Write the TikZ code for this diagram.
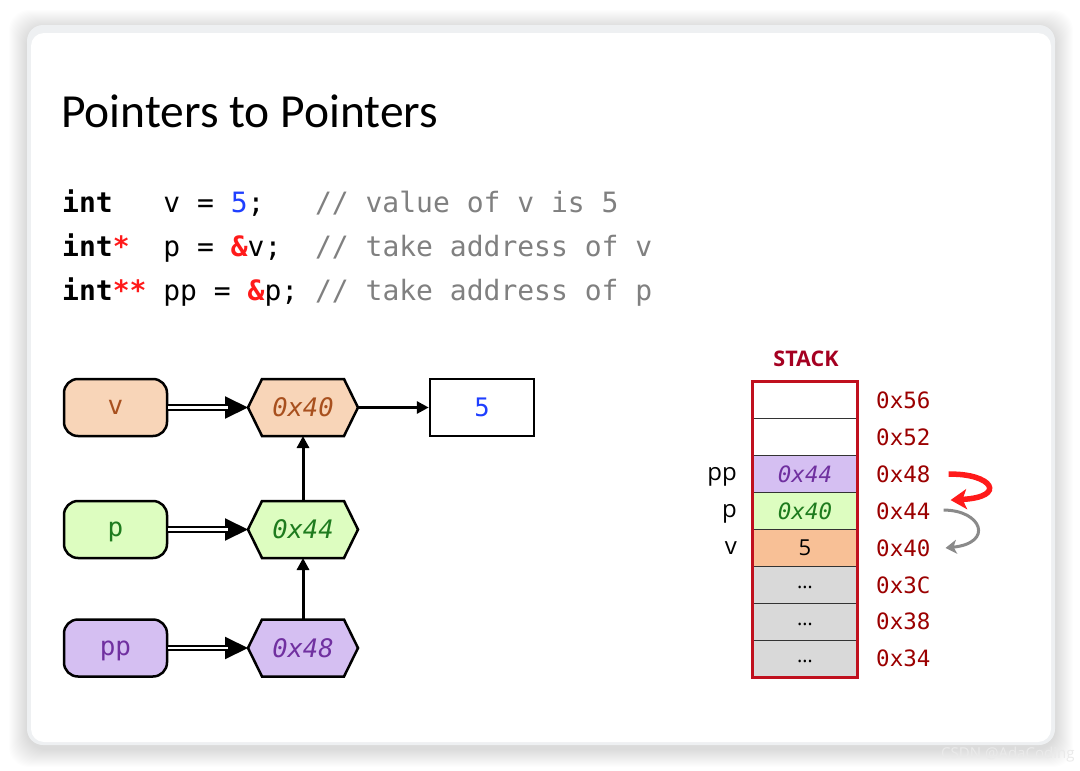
\documentclass[tikz,border=0pt]{standalone}
\usepackage{fontspec}
\setmainfont{Open Sans}
\setmonofont{DejaVu Sans Mono}
\newfontfamily\titlefont{Carlito}
\usetikzlibrary{arrows.meta,calc}
\definecolor{cardedge}{HTML}{EEF0F2}
\definecolor{peach}{HTML}{F8D5B8}
\definecolor{peachdark}{HTML}{F8C096}
\definecolor{lgreen}{HTML}{DDFDC0}
\definecolor{lpurple}{HTML}{D5BFF2}
\definecolor{cellgray}{HTML}{D9D9D9}
\definecolor{tbrown}{HTML}{A8501E}
\definecolor{tgreen}{HTML}{1E7B1E}
\definecolor{tpurple}{HTML}{7030A0}
\definecolor{tblue}{HTML}{1F3FFF}
\definecolor{cgray}{HTML}{808080}
\definecolor{cred}{HTML}{FF1A1A}
\definecolor{stackred}{HTML}{C0101E}
\definecolor{addrred}{HTML}{9B0000}
\definecolor{stacklbl}{HTML}{A50021}
\definecolor{arrgray}{HTML}{8A8A8A}
\definecolor{wmark}{HTML}{EAEAEA}
\begin{document}
\begin{tikzpicture}[x=1pt,y=-1pt,
  codeline/.style={anchor=base west, inner sep=0pt, font=\fontsize{28}{34}\selectfont\ttfamily},
  varbox/.style={draw, line width=2.5pt, rounded corners=14pt, minimum width=103pt, minimum height=57pt, inner sep=0pt, fill=#1, font=\fontsize{26}{30}\selectfont\ttfamily, text height=14pt, text depth=0pt},
  hexbox/.style={minimum width=116pt, minimum height=64pt, inner sep=0pt, outer xsep=-3pt, outer ysep=-3.5pt,
    font=\fontsize{25.5}{30}\selectfont\ttfamily\itshape,
    path picture={\filldraw[line width=2.5pt, fill=#1, line join=miter]
      ($(path picture bounding box.center)+(-55,0)$) -- ++(14,-28.5) -- ++(82,0) -- ++(14,28.5) -- ++(-14,28.5) -- ++(-82,0) -- cycle;}},
  valbox/.style={draw, line width=2.5pt, minimum width=104pt, minimum height=57pt, inner sep=0pt, fill=white, font=\fontsize{25.5}{30}\selectfont\ttfamily},
  dblline/.style={double, double distance=2.5pt, line width=2pt, shorten >=20pt},
  dblhead/.style={line width=2pt, -{Triangle[length=23pt,width=22pt]}},
  ptr/.style={line width=3pt, -{Triangle[length=12pt,width=12pt]}},
  cell/.style={draw=black!80, line width=0.9pt, minimum width=104pt, minimum height=36.875pt, inner sep=0pt, fill=#1},
  celltxt/.style={font=\fontsize{22.5}{26}\selectfont\ttfamily\itshape},
  dots/.style={font=\fontsize{20}{24}\selectfont, yshift=-3pt},
  addr/.style={anchor=west, inner sep=0pt, text=addrred, font=\fontsize{22.5}{26}\selectfont\ttfamily},
  slabel/.style={anchor=east, inner sep=0pt, font=\fontsize{24}{28}\selectfont, text height=13pt, text depth=0pt},
]
\useasboundingbox (0,0) rectangle (1080,771);
\fill[white] (0,0) rectangle (1080,771);
% soft shadow
\foreach \i in {1,...,18}{
  \fill[black, opacity=0.009, rounded corners=20pt] (27-\i,25-\i+3) rectangle (1055+\i,745+\i+4);
}
% card
\fill[cardedge, rounded corners=16pt] (27,25) rectangle (1055,745);
\fill[white, rounded corners=13pt] (31,33) rectangle (1051,742);
\node[wmark, anchor=base west, inner sep=0pt, font=\fontsize{15}{18}\selectfont] (wm) at (941,758) {CSDN @AdaCoding};

% title
\node[anchor=base west, inner sep=0pt, font=\fontsize{47.5}{54}\selectfont\titlefont] (title) at (61,127) {Pointers to Pointers};

% code
\node[codeline] (l1) at (62,212) {\textbf{int}\ \ \ v = \textcolor{tblue}{5};\ \ \ \textcolor{cgray}{// value of v is 5}};
\node[codeline] (l2) at (62,256) {\textbf{int\textcolor{cred}{*}}\ \ p = \textcolor{cred}{\textbf{\&}}v;\ \ \textcolor{cgray}{// take address of v}};
\node[codeline] (l3) at (62,300) {\textbf{int\textcolor{cred}{**}}\ pp = \textcolor{cred}{\textbf{\&}}p;\ \textcolor{cgray}{// take address of p}};

% left diagram
\node[varbox=peach, text=tbrown] (v) at (115.5,407.5) {v};
\node[varbox=lgreen, text=tgreen] (p) at (115.5,529.5) {p};
\node[varbox=lpurple, text=tpurple] (pp) at (115.5,648) {pp};
\node[hexbox=peach, text=tbrown] (h40) at (303,407.5) {0x40};
\node[hexbox=lgreen, text=tgreen] (h44) at (303,529.5) {0x44};
\node[hexbox=lpurple, text=tpurple] (h48) at (303,648) {0x48};
\node[valbox, text=tblue] (five) at (482,407.5) {5};

\foreach \a/\b in {v/h40,p/h44,pp/h48}{
  \draw[dblhead] (\a) -- (\b);
  \draw[dblline] (\a) -- (\b);
}
\draw[ptr] (h40) -- (five);
\draw[ptr] (h44) -- (h40);
\draw[ptr] (h48) -- (h44);

% stack
\node[text=stacklbl, font=\fontsize{21.5}{25}\selectfont\bfseries] (stk) at (806,359) {STACK};
\node[cell=white] (c1) at (805,400.44) {};
\node[cell=white] (c2) at (805,437.31) {};
\node[cell=lpurple, celltxt, text=tpurple] (c3) at (805,474.19) {0x44};
\node[cell=lgreen, celltxt, text=tgreen] (c4) at (805,511.06) {0x40};
\node[cell=peachdark, font=\fontsize{22}{26}\selectfont] (c5) at (805,547.94) {5};
\node[cell=cellgray] (c6) at (805,584.81) {};
\node[cell=cellgray] (c7) at (805,621.69) {};
\node[cell=cellgray] (c8) at (805,658.56) {};
\node[dots] (d6) at (c6) {…};
\node[dots] (d7) at (c7) {…};
\node[dots] (d8) at (c8) {…};
\draw[stackred, line width=2.6pt] (c1.north west) rectangle (c8.south east);

\node[addr] (a56) at (876,400.44) {0x56};
\node[addr] (a52) at (876,437.31) {0x52};
\node[addr] (a48) at (876,474.19) {0x48};
\node[addr] (a44) at (876,511.06) {0x44};
\node[addr] (a40) at (876,547.94) {0x40};
\node[addr] (a3c) at (876,584.81) {0x3C};
\node[addr] (a38) at (876,621.69) {0x38};
\node[addr] (a34) at (876,658.56) {0x34};

\node[slabel] (lpp) at (737,474.19) {pp};
\node[slabel] (lp) at (737,511.06) {p};
\node[slabel] (lv) at (737,547.94) {v};

% curved arrows
\coordinate (r1) at ($(a48.east)+(18,0)$);
\coordinate (r2) at ($(a44.east)+(20,-11)$);
\draw[cred, line width=5.5pt, -{Stealth[length=16pt,width=20pt,inset=4pt]}] (r1) .. controls (992,473) and (1008,497) .. (r2);
\coordinate (g1) at ($(a44.east)+(13,-1)$);
\coordinate (g2) at ($(a40.east)+(15,0)$);
\draw[arrgray, line width=3pt, -{Stealth[length=11pt,width=14pt,inset=3pt]}] (g1) .. controls (982,510) and (994,543) .. (g2);
\end{tikzpicture}
\end{document}
